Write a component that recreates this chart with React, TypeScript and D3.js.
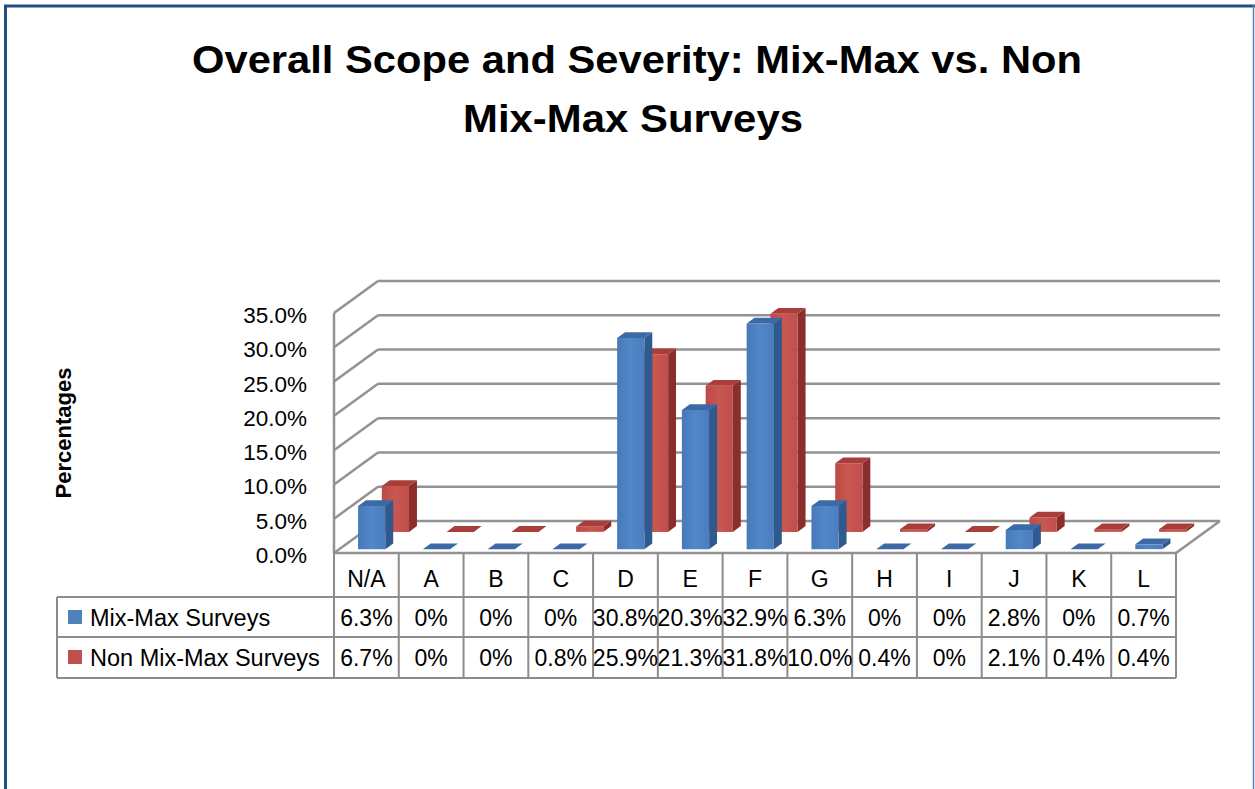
import React from "react";
import * as d3 from "d3";

const categories = ["N/A", "A", "B", "C", "D", "E", "F", "G", "H", "I", "J", "K", "L"];
const mixMaxValues = [6.3, 0, 0, 0, 30.8, 20.3, 32.9, 6.3, 0, 0, 2.8, 0, 0.7];
const nonMixMaxValues = [6.7, 0, 0, 0.8, 25.9, 21.3, 31.8, 10.0, 0.4, 0, 2.1, 0.4, 0.4];
const seriesNames = ["Mix-Max Surveys", "Non Mix-Max Surveys"];
const yTicks = [0, 5, 10, 15, 20, 25, 30, 35];
const titleLines = ["Overall Scope and Severity: Mix-Max vs. Non", "Mix-Max Surveys"];
const yAxisTitle = "Percentages";

const FONT = "'Liberation Sans', Arial, sans-serif";

export default function App() {
  const W = 1255, H = 789;
  const x0 = 334, x1 = 1176, floorY = 553, topY = 313, DX = 44, DY = -32;
  const tableLeft = 57, rowLines = [597, 637, 678];

  const x = d3.scaleBand<string>().domain(categories).range([x0, x1]);
  const y = d3.scaleLinear().domain([0, 35]).range([floorY, topY]);
  const fmtTick = d3.format(".1f");
  const fmtCell = (v: number) => (v === 0 ? "0%" : v.toFixed(1) + "%");

  const bw = x.bandwidth() * 0.42;
  const series = [
    { name: seriesNames[1], values: nonMixMaxValues, t0: 0.66, t1: 0.84, front: "url(#gRed)", side: "#8b2e2b", top: "#a83d39", legend: "#c0504d" },
    { name: seriesNames[0], values: mixMaxValues, t0: 0.12, t1: 0.3, front: "url(#gBlue)", side: "#2f5a8f", top: "#3d6aa6", legend: "#4f81bd" },
  ];

  const pt = (px: number, v: number, t: number) => [px + t * DX, y(v) + t * DY];
  const poly = (pts: number[][]) => pts.map((p) => p.join(",")).join(" ");

  const gridColor = "#929292";
  const lineColor = "#8c8c8c";

  return (
    <svg width={W} height={H} style={{ position: "absolute", left: 0, top: 0, background: "#fff" }}>
      <defs>
        <linearGradient id="gBlue" x1="0" x2="1" y1="0" y2="0">
          <stop offset="0" stopColor="#4879b8" />
          <stop offset="0.5" stopColor="#5188c9" />
          <stop offset="1" stopColor="#4a7dbd" />
        </linearGradient>
        <linearGradient id="gRed" x1="0" x2="1" y1="0" y2="0">
          <stop offset="0" stopColor="#bb4b47" />
          <stop offset="0.5" stopColor="#c95752" />
          <stop offset="1" stopColor="#bf4f4b" />
        </linearGradient>
      </defs>
      <rect x={0} y={0} width={W} height={H} fill="#fff" />
      {/* frame */}
      <line x1={4} x2={W} y1={6} y2={6} stroke="#1f4e86" strokeWidth={3} />
      <line x1={5.5} x2={5.5} y1={5} y2={H} stroke="#1f4e86" strokeWidth={3} />
      <line x1={1253.5} x2={1253.5} y1={5} y2={H} stroke="#5b84b5" strokeWidth={1.5} />

      {/* title */}
      <g fontFamily={FONT} fontWeight="bold" fontSize={39} textAnchor="middle" fill="#000">
        <text x={637} y={73} textLength={890} lengthAdjust="spacingAndGlyphs">{titleLines[0]}</text>
        <text x={633} y={132} textLength={340} lengthAdjust="spacingAndGlyphs">{titleLines[1]}</text>
      </g>

      {/* y axis title */}
      <text
        transform={`translate(71,433) rotate(-90)`}
        fontFamily={FONT}
        fontWeight="bold"
        fontSize={22}
        textAnchor="middle"
        fill="#000"
      >
        {yAxisTitle}
      </text>

      {/* walls & gridlines */}
      <g stroke={gridColor} strokeWidth={2.5} fill="none">
        {yTicks.map((v) => {
          const f = pt(x0, v, 0);
          const b = pt(x0, v, 1);
          const br = pt(x1, v, 1);
          return (
            <g key={v}>
              <line x1={f[0]} y1={f[1]} x2={b[0]} y2={b[1]} />
              <line x1={b[0]} y1={b[1]} x2={br[0]} y2={br[1]} />
            </g>
          );
        })}
        <line x1={x0} y1={y(0)} x2={x0} y2={y(35)} />
        <line x1={x1} y1={y(0)} x2={pt(x1, 0, 1)[0]} y2={pt(x1, 0, 1)[1]} />
      </g>

      {/* y tick labels */}
      <g fontFamily={FONT} fontSize={22.5} textAnchor="end" fill="#000">
        {yTicks.map((v) => (
          <text key={v} x={307} y={y(v) + 10}>
            {fmtTick(v) + "%"}
          </text>
        ))}
      </g>

      {/* bars */}
      {series.map((s) => (
        <g key={s.name}>
          {categories.map((c, i) => {
            const v = s.values[i];
            const cx = (x(c) as number) + x.bandwidth() / 2;
            const xl = cx - bw / 2, xr = cx + bw / 2;
            const fTL = pt(xl, v, s.t0), fTR = pt(xr, v, s.t0), fBR = pt(xr, 0, s.t0), fBL = pt(xl, 0, s.t0);
            const bTL = pt(xl, v, s.t1), bTR = pt(xr, v, s.t1), bBR = pt(xr, 0, s.t1);
            return (
              <g key={c}>
                <polygon points={poly([fTR, bTR, bBR, fBR])} fill={s.side} />
                <polygon points={poly([fTL, fTR, fBR, fBL])} fill={s.front} />
                <polygon points={poly([fTL, fTR, bTR, bTL])} fill={s.top} />
              </g>
            );
          })}
        </g>
      ))}

      {/* front floor line */}
      <line x1={x0} x2={x1} y1={floorY} y2={floorY} stroke={gridColor} strokeWidth={2.5} />

      {/* data table */}
      <g stroke={lineColor} strokeWidth={2} fill="none">
        {rowLines.map((ry) => (
          <line key={ry} x1={tableLeft} x2={x1} y1={ry} y2={ry} />
        ))}
        <line x1={tableLeft} x2={tableLeft} y1={rowLines[0]} y2={rowLines[2]} />
        {categories.map((c) => (
          <line key={c} x1={x(c) as number} x2={x(c) as number} y1={floorY} y2={rowLines[2]} />
        ))}
        <line x1={x1} x2={x1} y1={floorY} y2={rowLines[2]} />
      </g>
      <g fontFamily={FONT} fontSize={23} fill="#000" textAnchor="middle">
        {categories.map((c) => (
          <text key={c} x={(x(c) as number) + x.bandwidth() / 2} y={587}>
            {c}
          </text>
        ))}
        {[series[1], series[0]].map((s, r) =>
          categories.map((c, i) => (
            <text key={s.name + c} x={(x(c) as number) + x.bandwidth() / 2} y={626 + r * 40}>
              {fmtCell(s.values[i])}
            </text>
          ))
        )}
      </g>
      {[series[1], series[0]].map((s, r) => (
        <g key={"leg" + s.name}>
          <rect x={68} y={610 + r * 40} width={14} height={14} fill={s.legend} />
          <text x={90} y={626 + r * 40} fontFamily={FONT} fontSize={23.5} fill="#000">
            {s.name}
          </text>
        </g>
      ))}
    </svg>
  );
}
